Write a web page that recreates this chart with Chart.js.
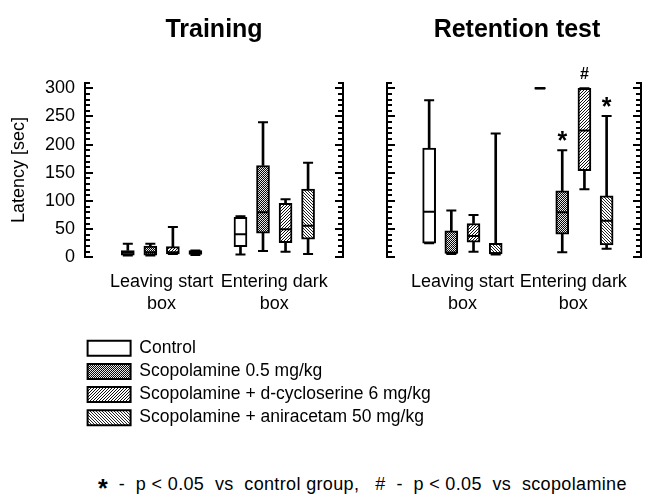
<!DOCTYPE html>
<html>
<head>
<meta charset="utf-8">
<script src="https://cdn.jsdelivr.net/npm/chart.js@4.4.1/dist/chart.umd.min.js"></script>
<style>
  html, body { margin: 0; padding: 0; background: #fff; }
  body { width: 646px; height: 504px; overflow: hidden; position: relative;
         font-family: "Liberation Sans", Arial, sans-serif; color: #000; }
  canvas { position: absolute; }
  #foot { position: absolute; left: 98px; top: 467px; font-size: 18px; letter-spacing: 0.35px; white-space: pre; }
  #foot .star { font-weight: bold; font-size: 25px; position: relative; top: 7px; }
</style>
</head>
<body>
<canvas id="cLeft" width="428" height="320" style="left:0;top:0"></canvas>
<canvas id="cRight" width="334" height="320" style="left:350px;top:0"></canvas>
<canvas id="cLegend" width="560" height="120" style="left:82px;top:334px"></canvas>
<div id="foot"><span class="star">*</span>  -  p &lt; 0.05  vs  control group,   #  -  p &lt; 0.05  vs  scopolamine</div>
<script>
// ---------------- data ----------------
const panelTitles = ['Training', 'Retention test'];
const groupLabels = [['Leaving start', 'box'], ['Entering dark', 'box']];
const seriesNames = ['Control', 'Scopolamine 0.5 mg/kg',
  'Scopolamine + d-cycloserine 6 mg/kg', 'Scopolamine + aniracetam 50 mg/kg'];
const yAxisTitle = 'Latency [sec]';
const yMin = 0, yMax = 310, yStep = 10, yLabelStep = 50;

// five-number summaries [min, q1, median, q3, max]; one per group (Leaving start box, Entering dark box)
const trainingControl = [[3, 4, 8, 12, 24], [5, 19, 41, 71, 73]];
const trainingScop    = [[3, 4, 9, 20, 24], [11, 43, 80, 163, 240]];
const trainingDcs     = [[6, 6, 9, 19, 54], [10, 26, 50, 96, 103]];
const trainingAni     = [[4, 5, 8, 12, 12], [6, 32, 56, 121, 168]];

const retentionControl = [[25, 25, 81, 194, 279], [300, 300, 300, 300, 300]];
const retentionScop    = [[6, 7, 8, 47, 83], [9, 41, 80, 118, 190]];
const retentionDcs     = [[10, 27, 38, 60, 75], [121, 154, 225, 300, 300]];
const retentionAni     = [[5, 6, 7, 25, 220], [15, 22, 65, 109, 251]];

// significance marks (retention test, Entering dark box)
const retentionMarks = [
  { group: 1, series: 1, symbol: '*' },
  { group: 1, series: 2, symbol: '#' },
  { group: 1, series: 3, symbol: '*' }
];

// ---------------- styling helpers ----------------
const FONT = '"Liberation Sans", Arial, Helvetica, sans-serif';
Chart.defaults.font.family = FONT;
Chart.defaults.color = '#000';

function makePattern(kind) {
  const c = document.createElement('canvas');
  const g = c.getContext('2d');
  if (kind === 'white') { c.width = 2; c.height = 2; g.fillStyle = '#fff'; g.fillRect(0, 0, 2, 2); }
  else if (kind === 'dots') {
    c.width = 2; c.height = 2;
    g.fillStyle = '#111'; g.fillRect(0, 0, 2, 2);
    g.fillStyle = '#e8e8e8';
    g.fillRect(0, 0, 1, 1); g.fillRect(1, 1, 1, 1);
    g.fillStyle = '#000'; g.fillRect(1, 0, 1, 1);
  } else if (kind === 'fwd') {
    c.width = 3; c.height = 3;
    g.fillStyle = '#fff'; g.fillRect(0, 0, 3, 3);
    g.fillStyle = '#111';
    [[2,0],[1,1],[0,2]].forEach(p => g.fillRect(p[0], p[1], 1, 1));
  } else {
    c.width = 3; c.height = 3;
    g.fillStyle = '#fff'; g.fillRect(0, 0, 3, 3);
    g.fillStyle = '#222';
    [[0,0],[1,1],[2,2]].forEach(p => g.fillRect(p[0], p[1], 1, 1));
  }
  return document.createElement('canvas').getContext('2d').createPattern(c, 'repeat');
}
const fills = [makePattern('white'), makePattern('dots'), makePattern('fwd'), makePattern('back')];

function boxPosition(group, series) { return group * 5 + series + 1; }

function buildDatasets(panel) {
  const ds = [];
  panel.forEach((groups, s) => {
    const whiskers = [], boxes = [], caps = [], medians = [];
    groups.forEach((v, g) => {
      const x = boxPosition(g, s);
      whiskers.push({ x, y: [v[0], v[1]] }, { x, y: [v[3], v[4]] });
      boxes.push({ x, y: [v[1], v[3]] });
      caps.push({ x, y: v[0] }, { x, y: v[4] });
      medians.push({ x, y: v[2] });
    });
    ds.push({ type: 'bar', label: seriesNames[s] + ' whiskers', data: whiskers, backgroundColor: '#000',
      borderWidth: 0, barThickness: 2, grouped: false, order: 4 });
    ds.push({ type: 'bar', label: seriesNames[s], data: boxes, backgroundColor: fills[s],
      borderColor: '#000', borderWidth: 2, borderSkipped: false, barThickness: 13, grouped: false, order: 3 });
    ds.push({ type: 'scatter', label: seriesNames[s] + ' caps', data: caps, pointStyle: 'line',
      pointRadius: 5, borderColor: '#000', borderWidth: 2, order: 2 });
    ds.push({ type: 'scatter', label: seriesNames[s] + ' median', data: medians, pointStyle: 'line',
      pointRadius: 5.5, borderColor: '#000', borderWidth: 2, order: 1 });
  });
  return ds;
}

// inward tick marks drawn on the library's y scales
const inwardTicks = {
  id: 'inwardTicks',
  afterDraw(chart) {
    const ctx = chart.ctx;
    ctx.save();
    ctx.strokeStyle = '#000';
    ctx.lineWidth = 2;
    ['y', 'y2'].forEach(id => {
      const sc = chart.scales[id];
      if (!sc) return;
      const isLeft = sc.position === 'left';
      const x0 = isLeft ? sc.right : sc.left;
      sc.ticks.forEach(t => {
        const py = Math.round(sc.getPixelForValue(t.value));
        const len = (t.value % yLabelStep === 0) ? 8 : 5;
        ctx.beginPath();
        ctx.moveTo(x0, py);
        ctx.lineTo(isLeft ? x0 + len : x0 - len, py);
        ctx.stroke();
      });
    });
    ctx.restore();
  }
};

function makeMarksPlugin(marks, panel) {
  return {
    id: 'sigMarks',
    afterDatasetsDraw(chart) {
      const ctx = chart.ctx, xs = chart.scales.x, ys = chart.scales.y;
      ctx.save();
      ctx.fillStyle = '#000';
      ctx.textAlign = 'center';
      ctx.textBaseline = 'alphabetic';
      marks.forEach(m => {
        const top = panel[m.series][m.group][4];
        const px = xs.getPixelForValue(boxPosition(m.group, m.series));
        const py = ys.getPixelForValue(top);
        if (m.symbol === '*') {
          ctx.font = 'bold 25px ' + FONT;
          ctx.fillText(m.symbol, px, py - 1);
        } else {
          ctx.font = 'bold 16px ' + FONT;
          ctx.fillText(m.symbol, px, py - 9);
        }
      });
      ctx.restore();
    }
  };
}

function makePanel(canvasId, title, panel, showLabels, leftW, rightW, marks) {
  const plugins = [inwardTicks];
  if (marks) plugins.push(makeMarksPlugin(marks, panel));
  return new Chart(document.getElementById(canvasId), {
    type: 'bar',
    data: { datasets: buildDatasets(panel) },
    plugins,
    options: {
      responsive: false,
      animation: false,
      events: [],
      layout: { padding: 0 },
      plugins: {
        legend: { display: false },
        tooltip: { enabled: false },
        title: { display: true, text: title, color: '#000',
          font: { size: 25, weight: 'bold' }, padding: { top: 15, bottom: 37.7 } }
      },
      scales: {
        x: {
          type: 'linear', position: 'bottom', min: -0.9, max: 10.55, offset: false,
          grid: { display: false, drawTicks: false },
          border: { display: false },
          afterBuildTicks: sc => { sc.ticks = groupLabels.map((_, g) => ({ value: boxPosition(g, 1.5) })); },
          afterFit: sc => { sc.height = 62.7; },
          ticks: { autoSkip: false, maxRotation: 0, minRotation: 0, padding: 14,
            font: { size: 18, lineHeight: 1.2 }, color: '#000',
            callback: (v, i) => groupLabels[i] }
        },
        y: {
          position: 'left', min: yMin, max: yMax,
          grid: { drawOnChartArea: false, drawTicks: false },
          border: { display: true, color: '#000', width: 2 },
          afterFit: sc => { sc.width = leftW; },
          title: { display: showLabels, text: yAxisTitle, color: '#000', font: { size: 18 }, padding: { top: 8, bottom: 0 } },
          ticks: { display: showLabels, stepSize: yStep, autoSkip: false, padding: 10,
            font: { size: 18 }, color: '#000',
            callback: v => (v % yLabelStep === 0 ? String(v) : '') }
        },
        y2: {
          position: 'right', min: yMin, max: yMax,
          grid: { drawOnChartArea: false, drawTicks: false },
          border: { display: true, color: '#000', width: 2 },
          afterFit: sc => { sc.width = rightW; },
          ticks: { display: false, stepSize: yStep, autoSkip: false }
        }
      }
    }
  });
}

makePanel('cLeft', panelTitles[0], [trainingControl, trainingScop, trainingDcs, trainingAni], true, 85, 85, null);
makePanel('cRight', panelTitles[1], [retentionControl, retentionScop, retentionDcs, retentionAni], false, 37, 43, retentionMarks);

// legend
new Chart(document.getElementById('cLegend'), {
  type: 'bar',
  data: {
    labels: [],
    datasets: seriesNames.map((n, i) => ({ label: n, data: [], backgroundColor: fills[i],
      borderColor: '#000', borderWidth: 2 }))
  },
  options: {
    responsive: false,
    animation: false,
    events: [],
    layout: { padding: 0 },
    scales: { x: { display: false }, y: { display: false } },
    plugins: {
      tooltip: { enabled: false },
      title: { display: false },
      legend: {
        position: 'left', align: 'start', maxWidth: 500,
        labels: { boxWidth: 43, boxHeight: 15, padding: 5.6, color: '#000', font: { size: 17.5 } }
      }
    }
  }
});
</script>
</body>
</html>
